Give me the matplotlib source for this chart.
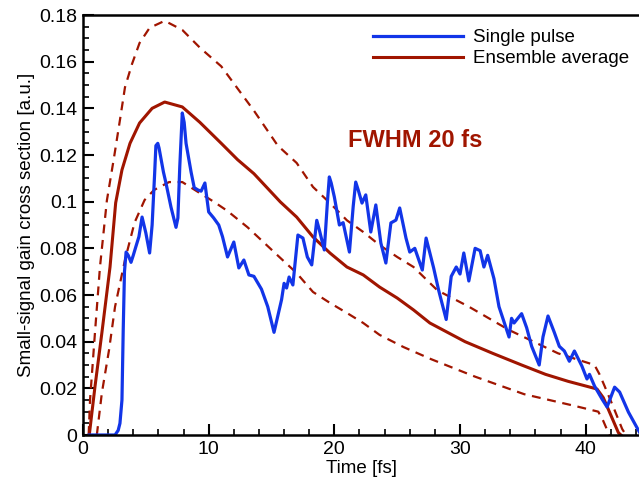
import matplotlib.pyplot as plt
from matplotlib.ticker import MultipleLocator

plt.rcParams['font.family'] = ['Liberation Sans', 'DejaVu Sans']

# Ensemble average (solid)
t_avg = [0.5, 0.95, 1.5, 2.15, 2.6, 3.1, 3.74, 4.5, 5.5, 6.5, 7.9, 9.3, 11.0, 12.3, 13.6, 15.7,
         17.0, 18.3, 19.65, 21.0, 22.3, 23.6, 25.0, 26.3, 27.6, 29.0, 30.4, 32.6, 34.9, 36.8,
         38.6, 40.0, 40.9, 41.4, 41.8, 42.2, 42.6, 42.8]
g_avg = [0.0, 0.0206, 0.0437, 0.072, 0.0995, 0.1136, 0.125, 0.1337, 0.140, 0.1427, 0.1406,
         0.134, 0.125, 0.118, 0.112, 0.0999, 0.0934, 0.0849, 0.078, 0.072, 0.0686, 0.0634,
         0.0587, 0.0536, 0.048, 0.044, 0.040, 0.035, 0.030, 0.026, 0.023, 0.021, 0.0197,
         0.016, 0.011, 0.006, 0.001, 0.0]

# Upper bound (dashed)
t_up = [0.45, 0.56, 0.95, 1.35, 1.9, 2.47, 2.94, 3.34, 3.9, 4.5, 5.3, 6.5, 7.9, 9.3, 11.0,
        13.6, 15.5, 17.0, 18.3, 19.65, 21.0, 22.3, 23.6, 25.0, 26.3, 28.2, 30.7, 33.9, 37.8,
        40.7, 41.1, 41.5, 42.2, 42.9, 43.2]
g_up = [0.0, 0.015, 0.0437, 0.072, 0.1005, 0.119, 0.135, 0.149, 0.159, 0.168, 0.1745, 0.1775,
        0.1736, 0.166, 0.158, 0.139, 0.124, 0.1166, 0.1063, 0.0994, 0.092, 0.087, 0.0814,
        0.0763, 0.072, 0.062, 0.055, 0.045, 0.035, 0.030, 0.026, 0.021, 0.012, 0.0026, 0.0]

# Lower bound (dashed)
t_lo = [1.1, 1.5, 2.07, 2.55, 3.34, 4.1, 4.9, 5.65, 6.85, 7.9, 9.2, 10.4, 11.5, 13.1, 15.7,
        17.0, 18.3, 19.65, 21.0, 22.3, 23.6, 25.5, 27.7, 31.2, 35.1, 39.1, 41.0, 41.4, 41.8, 41.9]
g_lo = [0.0, 0.018, 0.0364, 0.055, 0.075, 0.091, 0.1007, 0.105, 0.1084, 0.1084, 0.104, 0.100,
        0.096, 0.089, 0.0759, 0.0694, 0.0613, 0.0566, 0.0523, 0.048, 0.0429, 0.0377, 0.0325,
        0.025, 0.0175, 0.0125, 0.010, 0.006, 0.001, 0.0]

# Single pulse
t_sp = [0.5, 2.55, 2.8, 2.94, 3.1, 3.2, 3.3, 3.43, 3.6, 3.82, 4.0, 4.2, 4.45, 4.7, 5.0, 5.3, 5.5,
        5.7, 5.8, 5.95, 6.05, 6.4, 6.6, 7.0, 7.4, 7.55, 7.7, 7.9, 8.05, 8.2, 8.6, 8.85, 9.15,
        9.4, 9.7, 10.0, 10.4, 10.8, 11.1, 11.5, 12.0, 12.4, 12.8, 13.2, 13.6, 14.2, 14.7, 15.2,
        15.8, 16.0, 16.2, 16.4, 16.7, 17.1, 17.5, 17.85, 18.2, 18.6, 18.8, 19.2, 19.45, 19.6,
        19.75, 20.0, 20.4, 20.7, 21.2, 21.5, 21.7, 21.9, 22.2, 22.5, 22.9, 23.3, 23.7, 24.1,
        24.5, 24.9, 25.2, 25.7, 26.0, 26.4, 27.0, 27.3, 27.9, 28.3, 28.9, 29.3, 29.7, 30.0,
        30.3, 30.7, 31.2, 31.6, 31.9, 32.2, 32.7, 33.1, 33.9, 34.1, 34.3, 34.9, 35.3, 35.7,
        36.3, 36.6, 37.0, 37.5, 37.9, 38.3, 38.7, 39.1, 39.7, 40.1, 40.3, 40.7, 41.3, 41.7,
        42.3, 42.7, 43.4, 44.3]
g_sp = [0.0, 0.0, 0.002, 0.005, 0.015, 0.045, 0.070, 0.0784, 0.077, 0.074, 0.077, 0.0806,
        0.085, 0.0934, 0.0866, 0.078, 0.090, 0.112, 0.124, 0.125, 0.123, 0.1127, 0.108, 0.0977,
        0.089, 0.093, 0.115, 0.138, 0.134, 0.125, 0.1127, 0.106, 0.105, 0.1045, 0.108, 0.0956,
        0.093, 0.090, 0.085, 0.0763, 0.0827, 0.0716, 0.075, 0.0686, 0.068, 0.0625, 0.055,
        0.044, 0.058, 0.065, 0.063, 0.0677, 0.0643, 0.0857, 0.0844, 0.0763, 0.0729, 0.092,
        0.088, 0.0793, 0.100, 0.1106, 0.108, 0.102, 0.090, 0.091, 0.0784, 0.098, 0.1084, 0.105,
        0.0994, 0.1029, 0.087, 0.0986, 0.0823, 0.0737, 0.0909, 0.0921, 0.0973, 0.0844, 0.0784,
        0.080, 0.0707, 0.0844, 0.0716, 0.062, 0.0495, 0.068, 0.072, 0.069, 0.078, 0.066, 0.080,
        0.079, 0.072, 0.077, 0.067, 0.055, 0.042, 0.050, 0.048, 0.052, 0.046, 0.038, 0.030,
        0.042, 0.051, 0.044, 0.038, 0.036, 0.0316, 0.036, 0.0295, 0.024, 0.026, 0.021, 0.0154,
        0.012, 0.0205, 0.0184, 0.0098, 0.001]

blue = '#1235e8'
red = '#a01500'

fig = plt.figure(figsize=(6.39, 4.94), dpi=100)
ax = fig.add_axes([83/639, 59/494, 558/639, 420/494])

ax.plot(t_up, g_up, color=red, lw=1.6, ls=(0, (4, 3)))
ax.plot(t_lo, g_lo, color=red, lw=1.6, ls=(0, (4, 3)))
ax.plot(t_avg, g_avg, color=red, lw=2.2, label='Ensemble average', solid_joinstyle='round')
ax.plot(t_sp, g_sp, color=blue, lw=2.3, label='Single pulse', solid_joinstyle='round')

ax.set_xlim(0, 44.4)
ax.set_ylim(0, 0.18)
ax.xaxis.set_major_locator(MultipleLocator(10))
ax.xaxis.set_minor_locator(MultipleLocator(2))
ax.yaxis.set_minor_locator(MultipleLocator(0.005))
ax.set_yticks([0, 0.02, 0.04, 0.06, 0.08, 0.1, 0.12, 0.14, 0.16, 0.18])
ax.set_yticklabels(['0', '0.02', '0.04', '0.06', '0.08', '0.1', '0.12', '0.14', '0.16', '0.18'])
ax.tick_params(which='major', direction='in', length=8, width=1.5, labelsize=14, pad=4)
ax.tick_params(which='minor', direction='in', length=4, width=1.2)
for s in ax.spines.values():
    s.set_linewidth(1.8)

ax.set_xlabel('Time [fs]', fontsize=13.5, labelpad=2)
ax.set_ylabel('Small-signal gain cross section [a.u.]', fontsize=13.5, labelpad=3)

ax.text(26.4, 0.1264, 'FWHM 20 fs', color=red, fontsize=17, fontweight='bold',
        ha='center', va='center')

h, l = ax.get_legend_handles_labels()
ax.legend(h[::-1], l[::-1], loc='upper left', bbox_to_anchor=(364/639, 1 - 20/494),
          bbox_transform=fig.transFigure, frameon=False, fontsize=13.5,
          handlelength=4.8, handletextpad=0.5, labelspacing=0.2, borderpad=0)

fig.savefig('out.png', dpi=100)
